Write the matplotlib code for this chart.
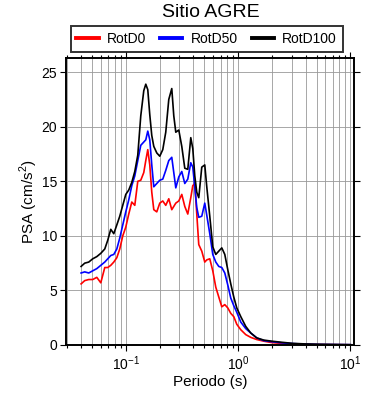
import matplotlib
matplotlib.use("Agg")
import matplotlib.pyplot as plt
from matplotlib.ticker import LogLocator, MultipleLocator, NullFormatter

plt.rcParams['font.family'] = ['Liberation Sans', 'DejaVu Sans']
plt.rcParams['mathtext.fontset'] = 'custom'
plt.rcParams['mathtext.rm'] = 'Liberation Sans'

# Periods (s)
periodo = [0.040, 0.0431, 0.0468, 0.0508, 0.0552, 0.0599, 0.0650, 0.0691, 0.0735,
           0.0782, 0.0832, 0.0884, 0.0940, 0.100, 0.1063, 0.1131, 0.1203, 0.1279,
           0.1360, 0.1446, 0.1507, 0.1570, 0.1636, 0.1704, 0.1776, 0.1888, 0.2008,
           0.2135, 0.2270, 0.2415, 0.2568, 0.2676, 0.2788, 0.2965, 0.3153, 0.3353,
           0.3566, 0.3792, 0.3951, 0.4116, 0.4288, 0.4467, 0.4751, 0.5052, 0.5263,
           0.5598, 0.5953, 0.6331, 0.6733, 0.7161, 0.7615, 0.8098, 0.8610, 0.9157,
           0.9737, 1.057, 1.171, 1.297, 1.467, 1.693, 1.996, 2.449, 3.070, 3.926,
           5.125, 6.971, 10.0]

rotd100 = [7.2, 7.5, 7.6, 7.9, 8.1, 8.4, 8.8, 9.6, 10.6, 10.2, 11.0, 11.8, 12.8,
           13.8, 14.2, 14.9, 15.9, 17.4, 21.0, 23.3, 23.9, 23.4, 21.1, 19.2, 18.2,
           17.6, 17.3, 17.9, 19.5, 22.5, 23.5, 21.0, 19.5, 19.7, 18.2, 16.2, 16.1,
           19.0, 18.0, 15.5, 14.0, 13.5, 16.3, 16.5, 14.5, 11.8, 9.0, 8.3, 8.6,
           8.9, 8.3, 6.9, 5.6, 4.4, 3.4, 2.6, 1.7, 1.1, 0.65, 0.45, 0.35, 0.25,
           0.15, 0.10, 0.07, 0.05, 0.03]

rotd50 = [6.6, 6.7, 6.6, 6.8, 7.0, 7.3, 7.6, 7.9, 8.2, 8.3, 8.8, 9.8, 11.0,
          12.2, 13.3, 14.6, 15.5, 16.9, 18.3, 18.6, 18.8, 19.6, 18.8, 16.5, 14.5,
          14.8, 15.1, 15.2, 16.0, 16.9, 17.2, 15.8, 14.4, 15.4, 15.9, 14.8, 15.2,
          16.7, 16.3, 14.5, 12.6, 11.7, 11.8, 13.0, 11.9, 10.2, 8.3, 7.6, 7.2,
          7.1, 6.6, 5.5, 4.3, 3.6, 3.0, 2.1, 1.5, 1.1, 0.65, 0.40, 0.30, 0.20,
          0.13, 0.08, 0.05, 0.04, 0.03]

rotd0 = [5.6, 5.9, 6.0, 6.0, 6.2, 5.7, 7.1, 7.1, 7.3, 7.6, 8.0, 8.8, 10.0,
         10.8, 12.0, 13.1, 12.8, 15.0, 15.1, 15.8, 16.9, 17.9, 16.5, 14.0, 12.4,
         12.2, 13.0, 13.2, 12.8, 13.4, 12.4, 12.7, 13.0, 13.2, 13.8, 12.7, 12.0,
         13.5, 14.6, 14.8, 12.0, 9.2, 8.6, 7.6, 7.8, 7.9, 6.8, 5.3, 4.4,
         3.5, 3.7, 3.4, 2.9, 2.6, 1.9, 1.4, 0.95, 0.70, 0.50, 0.35, 0.22, 0.15,
         0.08, 0.05, 0.04, 0.03, 0.02]

series = [('RotD0', rotd0, 'red'), ('RotD50', rotd50, 'blue'), ('RotD100', rotd100, 'black')]

fig = plt.figure(figsize=(3.9, 4.0), dpi=100)
ax = fig.add_axes([0.169, 0.1375, 0.739, 0.7175])

for name, vals, col in series:
    ax.plot(periodo, vals, color=col, lw=1.2, label=name)

ax.set_xscale('log')
ax.set_xlim(0.0293, 10.8)
ax.set_ylim(0, 26.3)

ax.xaxis.set_major_locator(LogLocator(base=10))
ax.xaxis.set_minor_locator(LogLocator(base=10, subs=range(2, 10)))
ax.xaxis.set_minor_formatter(NullFormatter())
ax.yaxis.set_major_locator(MultipleLocator(5))

ax.grid(which='both', axis='x', color='#999999', lw=0.6)
ax.grid(which='major', axis='y', color='#999999', lw=0.6)

ax.tick_params(which='both', direction='out', top=True, right=True, labelsize=10, width=0.8)
ax.tick_params(which='major', length=4, pad=2.5)
ax.tick_params(which='minor', length=2.5)
for sp in ax.spines.values():
    sp.set_linewidth(1.4)

ax.set_xlabel('Periodo (s)', fontsize=11, labelpad=2)
ax.set_ylabel('PSA (cm/s$^2$)', fontsize=11, labelpad=1)
fig.suptitle('Sitio AGRE', fontsize=14, x=0.54, y=0.99)

leg = fig.legend(loc='center', bbox_to_anchor=(0.53, 0.9025), ncol=3, fontsize=10,
                 frameon=True, fancybox=False, handlelength=1.6, handletextpad=0.6,
                 columnspacing=1.0, borderpad=0.4, edgecolor='black')
leg.get_frame().set_linewidth(1.4)
for line in leg.get_lines():
    line.set_linewidth(2.8)

fig.savefig('out.png', dpi=100)
